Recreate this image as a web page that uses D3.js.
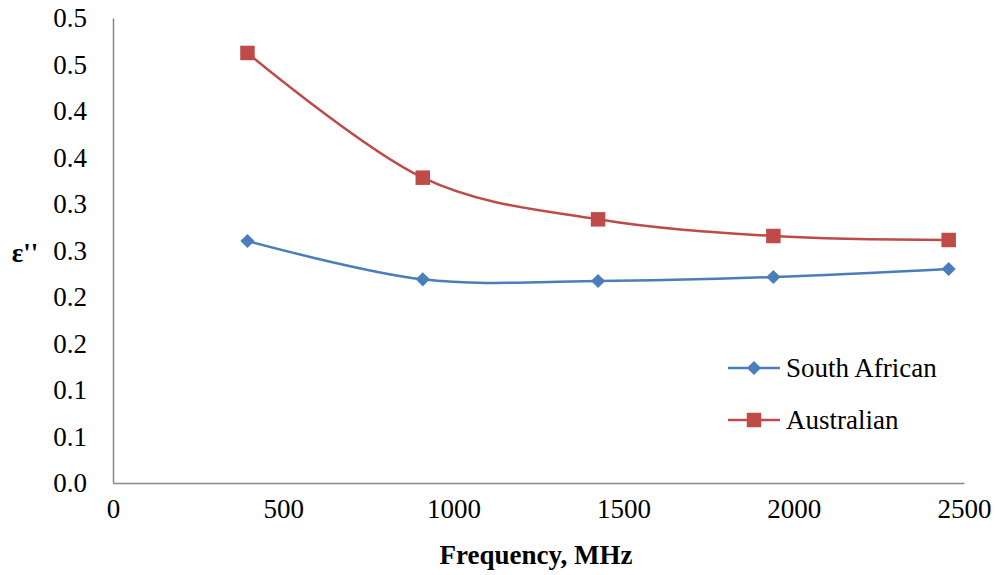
<!DOCTYPE html>
<html>
<head>
<meta charset="utf-8">
<script src="https://cdn.jsdelivr.net/npm/d3@7"></script>
<style>
  html, body { margin: 0; padding: 0; background: #fff; }
</style>
</head>
<body>
<svg id="chart" width="995" height="575"></svg>
<script>
// ---- data ----
const frequencies = [395, 910, 1425, 1940, 2455];
const southAfrican = [0.2602, 0.2190, 0.2172, 0.2215, 0.2301];
const australian = [0.4624, 0.3283, 0.2835, 0.2656, 0.2613];
const seriesNames = ["South African", "Australian"];
const yTickValues = [0, 0.05, 0.1, 0.15, 0.2, 0.25, 0.3, 0.35, 0.4, 0.45, 0.5];
const yTickLabels = ["0.0", "0.1", "0.1", "0.2", "0.2", "0.3", "0.3", "0.4", "0.4", "0.5", "0.5"];
const xTickValues = [0, 500, 1000, 1500, 2000, 2500];
const xTickLabels = ["0", "500", "1000", "1500", "2000", "2500"];

// ---- layout ----
const svg = d3.select("#chart");
const x = d3.scaleLinear().domain([0, 2500]).range([113, 964]);
const y = d3.scaleLinear().domain([0, 0.5]).range([483, 18]);
const colors = ["#4A7EBB", "#BE4B48"];
const axisColor = "#898989";
const fontSize = 27;
const serif = "Liberation Serif";

// axes
const yAxis = d3.axisLeft(y).tickValues(yTickValues)
  .tickFormat((d, i) => yTickLabels[i]).tickSize(0).tickPadding(26);
const gy = svg.append("g").attr("transform", `translate(${x(0)},0)`).call(yAxis);
gy.attr("font-family", null).attr("font-size", null);
gy.select(".domain").attr("stroke", axisColor).attr("stroke-width", 1.5);
gy.selectAll("text").style("font-size", fontSize + "px")
  .style("font-family", serif).attr("fill", "#000");

const xAxis = d3.axisBottom(x).tickValues(xTickValues)
  .tickFormat((d, i) => xTickLabels[i]).tickSize(0).tickPadding(16);
const gx = svg.append("g").attr("transform", `translate(0,${y(0)})`).call(xAxis);
gx.attr("font-family", null).attr("font-size", null);
gx.select(".domain").attr("stroke", axisColor).attr("stroke-width", 1.5);
gx.selectAll("text").style("font-size", fontSize + "px")
  .style("font-family", serif).attr("fill", "#000");

// axis titles
svg.append("text").attr("x", 536).attr("y", 564).attr("text-anchor", "middle")
  .style("font-family", serif)
  .style("font-size", fontSize + "px").style("font-weight", "bold").text("Frequency, MHz");
svg.append("text").attr("x", 25).attr("y", 262).attr("text-anchor", "middle")
  .style("font-family", serif)
  .style("font-size", fontSize + "px").style("font-weight", "bold").text("ε''");

// series
const line = d3.line().x(d => x(d[0])).y(d => y(d[1])).curve(d3.curveCardinal.tension(0));
const allSeries = [southAfrican, australian];

allSeries.forEach((vals, si) => {
  const pts = frequencies.map((f, i) => [f, vals[i]]);
  svg.append("path").datum(pts).attr("d", line).attr("fill", "none")
    .attr("stroke", colors[si]).attr("stroke-width", 2.5);
});
allSeries.forEach((vals, si) => {
  const pts = frequencies.map((f, i) => [f, vals[i]]);
  const g = svg.append("g");
  pts.forEach(p => {
    if (si === 0) {
      g.append("path").attr("d", d3.symbol().type(d3.symbolSquare).size(100)())
        .attr("transform", `translate(${x(p[0])},${y(p[1])}) rotate(45)`)
        .attr("fill", colors[si]);
    } else {
      g.append("path").attr("d", d3.symbol().type(d3.symbolSquare).size(210)())
        .attr("transform", `translate(${x(p[0])},${y(p[1])})`)
        .attr("fill", colors[si]);
    }
  });
});

// legend
const legendY = [368, 420];
seriesNames.forEach((name, i) => {
  svg.append("line").attr("x1", 728).attr("x2", 780).attr("y1", legendY[i]).attr("y2", legendY[i])
    .attr("stroke", colors[i]).attr("stroke-width", 2.5);
  if (i === 0) {
    svg.append("path").attr("d", d3.symbol().type(d3.symbolSquare).size(100)())
      .attr("transform", `translate(754,${legendY[i]}) rotate(45)`).attr("fill", colors[i]);
  } else {
    svg.append("path").attr("d", d3.symbol().type(d3.symbolSquare).size(210)())
      .attr("transform", `translate(754,${legendY[i]})`).attr("fill", colors[i]);
  }
  svg.append("text").attr("x", 786).attr("y", legendY[i] + 9)
    .style("font-family", serif)
    .style("font-size", fontSize + "px").text(name);
});
</script>
</body>
</html>
